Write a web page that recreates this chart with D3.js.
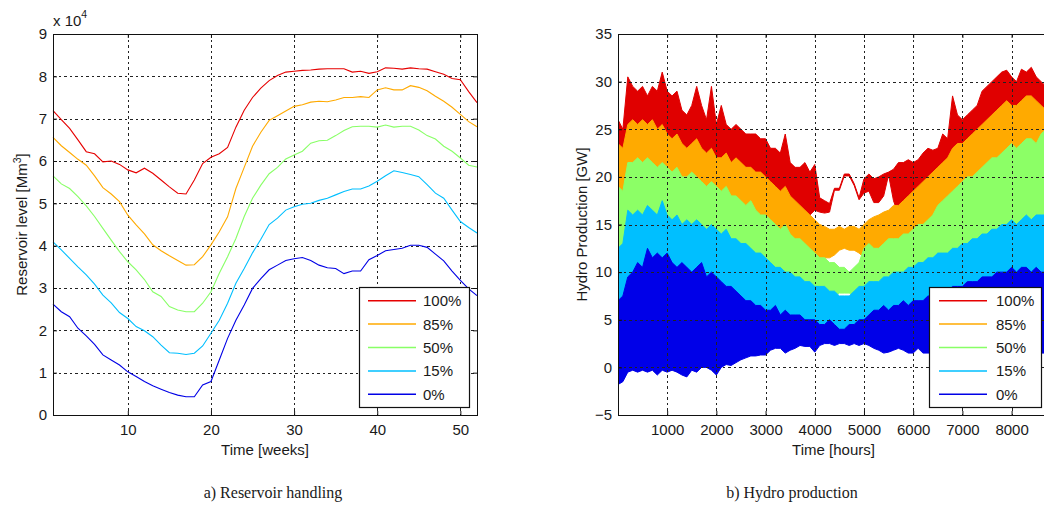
<!DOCTYPE html>
<html>
<head>
<meta charset="utf-8">
<script src="https://cdn.jsdelivr.net/npm/d3@7"></script>
<style>
  body { margin: 0; background: #fff; }
  svg text { font-family: "Liberation Sans", Arial, sans-serif; fill: #1a1a1a; }
  .caption { font-family: "Liberation Serif", "Times New Roman", serif; }
</style>
</head>
<body>
<script>
// ---------- a) reservoir level, one value per week, in units of 10^4 Mm3 ----------
const weeks = [1,2,3,4,5,6,7,8,9,10,11,12,13,14,15,16,17,18,19,20,21,22,23,24,25,26,
  27,28,29,30,31,32,33,34,35,36,37,38,39,40,41,42,43,44,45,46,47,48,49,50,51,52];
const scenarioNames = ["100%", "85%", "50%", "15%", "0%"];

const level100 = [7.19,6.98,6.77,6.50,6.22,6.17,5.98,6.00,5.92,5.79,5.72,5.83,5.71,5.55,5.39,5.24,5.22,5.55,5.94,6.09,6.17,6.32,6.80,7.20,7.50,7.72,
  7.90,8.02,8.10,8.12,8.14,8.15,8.17,8.18,8.18,8.18,8.10,8.12,8.07,8.11,8.20,8.19,8.17,8.20,8.18,8.17,8.11,8.05,7.95,7.92,7.64,7.38];
const level85 = [6.56,6.36,6.20,6.04,5.90,5.65,5.37,5.22,5.04,4.72,4.49,4.28,4.02,3.88,3.76,3.65,3.54,3.55,3.74,4.02,4.33,4.68,5.35,5.85,6.35,6.68,
  6.96,7.07,7.18,7.29,7.33,7.39,7.41,7.40,7.44,7.50,7.50,7.52,7.50,7.68,7.73,7.68,7.68,7.78,7.74,7.66,7.53,7.41,7.27,7.10,6.93,6.81];
const level50 = [5.65,5.46,5.35,5.16,4.94,4.69,4.41,4.13,3.86,3.62,3.43,3.20,2.91,2.80,2.56,2.48,2.44,2.44,2.64,2.91,3.35,3.74,4.17,4.69,5.12,5.43,
  5.70,5.85,6.05,6.14,6.23,6.42,6.48,6.49,6.60,6.72,6.81,6.82,6.82,6.80,6.85,6.80,6.82,6.82,6.73,6.60,6.52,6.35,6.23,6.07,5.90,5.86];
const level15 = [4.09,3.90,3.70,3.50,3.31,3.09,2.83,2.65,2.42,2.28,2.09,1.99,1.85,1.65,1.47,1.46,1.43,1.46,1.63,1.93,2.24,2.64,3.11,3.46,3.83,4.15,
  4.50,4.65,4.84,4.92,4.98,5.00,5.07,5.12,5.20,5.28,5.34,5.34,5.41,5.52,5.65,5.77,5.73,5.68,5.63,5.44,5.24,5.12,4.84,4.57,4.43,4.30];
const level0 = [2.62,2.44,2.32,2.05,1.87,1.67,1.42,1.30,1.18,1.02,0.91,0.79,0.69,0.61,0.53,0.47,0.43,0.43,0.71,0.79,1.30,1.81,2.24,2.60,2.99,3.22,
  3.43,3.54,3.65,3.69,3.72,3.65,3.54,3.48,3.46,3.34,3.40,3.40,3.67,3.77,3.88,3.91,3.94,4.01,4.01,3.96,3.80,3.64,3.40,3.18,2.98,2.82];

const weekTicks = [10, 20, 30, 40, 50];
const levelTicks = [0, 1, 2, 3, 4, 5, 6, 7, 8, 9];

// ---------- b) hydro production [GW], upper and lower envelope every 100 h ----------
const hours = [1,100,200,300,400,500,600,700,800,900,
  1000,1100,1200,1300,1400,1500,1600,1700,1800,1900,
  2000,2100,2200,2300,2400,2500,2600,2700,2800,2900,
  3000,3100,3200,3300,3400,3500,3600,3700,3800,3900,
  4000,4100,4200,4300,4400,4500,4600,4700,4800,4900,
  5000,5100,5200,5300,5400,5500,5600,5700,5800,5900,
  6000,6100,6200,6300,6400,6500,6600,6700,6800,6900,
  7000,7100,7200,7300,7400,7500,7600,7700,7800,7900,
  8000,8100,8200,8300,8400,8500,8600,8700,8760];

const prod100Hi = [26,25,30.5,29.5,29,29.5,28.5,29.5,29,31,
  29,28.5,29,27,26.5,27.5,29.5,27.5,26,29.5,
  25.5,27.5,25.5,25,25.5,25,24.5,24.5,24.5,24,
  24,23,23,22.5,24.5,21.5,21,21,21.5,20.5,
  21.3,17.8,17.5,17.2,18.8,18.8,20.3,20.3,19.3,17.8,
  19.8,20.3,19.8,20,20.3,20.5,20.8,21.5,21.5,21.8,
  21.5,21.8,22.5,23,22.8,23,24.5,24,28.5,26.5,
  26,26.5,27,27.5,29,29.5,30,30.5,31,31.2,
  30.5,30,31.3,31,31.5,30.5,30,29.5,29];
const prod100Lo = [22,22,24,24.5,24,24.5,24,24.5,23.5,24,
  23,22.5,23,22,21.5,22,22.5,21.5,21,21.5,
  20.5,20.5,21,20,20.5,20,19.5,19.5,19,19,
  18.5,18,17.5,17,17.5,16.5,16,16,16,16,
  16.5,16.3,16.2,16.3,18.6,18.6,20.1,20.1,19.1,17.6,
  18.3,18.5,17.3,17.3,18,20.2,17.5,16,16.5,17,
  17.5,18,18.5,19,19.5,20,20.5,21,22,22.5,
  22.5,23,23.5,24,24.5,25,25.5,26,26.5,27,
  26.5,26.5,27,27.5,27.5,27,26.5,26,26];

const prod85Hi = [23.5,23,25.5,26,25.5,26,25.5,26,25,25.5,
  24.5,24,24.5,23.5,23,23.5,24,23,22.5,23,
  22,22,22.5,21.5,22,21.5,21,21,20.5,20.5,
  20,19.5,19,18.5,19,18,17.5,17,16.5,16,
  15.5,15,14.8,14.5,14.5,14.8,14.5,14.8,14.8,14.5,
  15,15.5,15.8,16,16.3,16.5,17,17,17.5,18,
  18.5,19,19.5,20,20.5,21,21.5,22,23,23.5,
  23.5,24,24.5,25,25.5,26,26.5,27,27.5,28,
  27.5,27.5,28,28.5,28.5,28,27.5,27,27];
const prod85Lo = [18,17.5,20.5,20.5,21,20.5,21,20.5,20,20.5,
  20,19.5,20,19,19,19.5,19,18.5,18,18.5,
  18,17.5,18,17,17,16.5,16,16.5,15.5,15,
  15,14.5,14,13.5,14,13,12.5,12.5,12,12,
  12,11.5,11.5,11.5,11.8,12.3,12.5,12.3,12.3,12,
  11.5,12,11.5,11.5,12,12.5,12.5,12.5,13,13,
  13.5,14,14,14.5,15,16,16.5,17,17.5,18,
  18.5,19,19,19.5,20,20.5,21,21,21.5,22,
  22.5,22,22.5,23,23,22.5,23.5,24,23];

const prod50Hi = [19,18.5,21.5,21.5,22,21.5,22,21.5,21,21.5,
  21,20.5,21,20,20,20.5,20,19.5,19,19.5,
  19,18.5,19,18,18,17.5,17,17.5,16.5,16,
  16,15.5,15,14.5,15,14,13.5,13.5,13,12.5,
  12,11.5,11.5,11,11,10.5,10.5,10,10.5,11,
  12.5,13,12.5,12.5,13,13.5,13.5,13.5,14,14,
  14.5,15,15,15.5,16,17,17.5,18,18.5,19,
  19.5,20,20,20.5,21,21.5,22,22,22.5,23,
  23.5,23,23.5,24,24,23.5,24.5,25,24];
const prod50Lo = [11.5,12,15.5,15,15.5,15,16,15.5,15,16.5,
  15,14.5,15,14,14.5,14,14.5,14,13.5,14,
  13.5,13,13.5,12.5,12.5,12,12,11.5,11,11,
  10.5,10,9.5,9.5,9,9,8.5,8.5,8,8,
  7.5,7.5,7.5,7.5,7.5,7.8,7.8,7.8,7.5,7.5,
  7.5,8,8,8,8.5,8.5,9,9,9,9.5,
  9.5,10,10,10.5,10.5,11,11,11,11.5,11.5,
  12,12,12.5,12.5,13,13,13.5,13.5,14,14,
  14.5,14,14.5,15,14.5,15,15,15,14.5];

const prod15Hi = [12.5,13,16.5,16,16.5,16,17,16.5,16,17.5,
  16,15.5,16,15,15.5,15,15.5,15,14.5,15,
  14.5,14,14.5,13.5,13.5,13,13,12.5,12,12,
  11.5,11,10.5,10.5,10,10,9.5,9.5,9,9,
  8.5,8.5,8.5,8,8,7.5,7.5,7.5,8,8.5,
  8.5,9,9,9,9.5,9.5,10,10,10,10.5,
  10.5,11,11,11.5,11.5,12,12,12,12.5,12.5,
  13,13,13.5,13.5,14,14,14.5,14.5,15,15,
  15.5,15,15.5,16,15.5,16,16,16,15.5];
const prod15Lo = [6,6.5,8.5,9,10,9.5,11.5,10.5,11,10.5,
  11,10,9.5,10,9.5,9,9.5,10,8.5,9,
  8.5,8,7.5,7.5,7,6.5,6,6,5.5,5.5,
  5,5,5.5,4.5,5,4.5,4.5,4.5,4,4,
  4,3.8,3.8,4,3.8,3.5,3.5,3.8,3.8,4,
  4,4.5,5,5,5.5,5,5.5,5.5,6,5.5,
  6,6,6,6.5,6.5,7,7,7,7.5,7.5,
  7.5,8,8,8,8.5,8.5,8.5,9,9,9,
  9.5,9,9.5,9.5,9,9.5,9,9,8.5];

const prod0Hi = [7,7.5,9.5,10,11,10.5,12.5,11.5,12,11.5,
  12,11,10.5,11,10.5,10,10.5,11,9.5,10,
  9.5,9,8.5,8.5,8,7.5,7,7,6.5,6.5,
  6,6,6.5,5.5,6,5.5,5.5,5.5,5,5,
  5,4.5,4.5,5,4.5,4,4,4.5,4.5,5,
  5,5.5,6,6,6.5,6,6.5,6.5,7,6.5,
  7,7,7,7.5,7.5,8,8,8,8.5,8.5,
  8.5,9,9,9,9.5,9.5,9.5,10,10,10,
  10.5,10,10.5,10.5,10,10.5,10,10,9.5];
const prod0Lo = [-1.8,-1.5,-0.5,-0.3,-0.5,-0.3,-0.5,-0.3,-0.8,-0.3,
  -0.5,-0.3,-0.5,-0.8,-1,-0.3,-0.5,0,0,-0.3,
  -0.8,0,0.3,0.2,0.5,0.8,1,1.2,1.2,1.3,
  1.3,1.8,2,2,1.5,1.8,2,2.3,2.2,2.2,
  1.6,2.3,2.5,2.5,2.3,2.5,2.5,2.3,2.5,2.3,
  2.5,2.3,2,1.8,1.5,1.6,1.8,2,1.8,1.5,
  1.5,2,1.5,1.5,1.5,1.5,1.5,1.5,1.5,1.5,
  1.5,1.5,1.5,1.5,1.5,1.5,1.5,1.5,1.5,1.5,
  1.5,1.5,1.5,1.5,1.5,1.5,1.5,1.5,1.5];

const hourTicks = [1000, 2000, 3000, 4000, 5000, 6000, 7000, 8000];
const prodTicks = [-5, 0, 5, 10, 15, 20, 25, 30, 35];

const lineColors = ["#e60000", "#ffaa00", "#88ff66", "#00bfff", "#0000e6"];
const bandColors = ["#e00000", "#ffaa00", "#8cff66", "#00bfff", "#0000e8"];

const svg = d3.select("body").append("svg")
  .attr("width", 1044)
  .attr("height", 508);
svg.append("rect").attr("width", 1044).attr("height", 508).attr("fill", "#fff");

const xL = d3.scaleLinear().domain([1, 52]).range([53, 477]);
const yL = d3.scaleLinear().domain([0, 9]).range([415, 34]);
const xR = d3.scaleLinear().domain([1, 8760]).range([618, 1049]);
const yR = d3.scaleLinear().domain([-5, 35]).range([415, 34]);

// dotted grid at the inner ticks
function grid(x, y, xt, yt) {
  const [x0, x1] = x.range(), [y1, y0] = y.range();
  const g = svg.append("g")
    .attr("stroke", "#222")
    .attr("stroke-width", 1)
    .attr("stroke-dasharray", "2.5,3")
    .attr("shape-rendering", "crispEdges");
  g.selectAll(null).data(xt.filter(d => x(d) > x0 + 1 && x(d) < x1 - 1)).join("line")
    .attr("x1", d => Math.round(x(d)) + 0.5).attr("x2", d => Math.round(x(d)) + 0.5)
    .attr("y1", y0).attr("y2", y1);
  g.selectAll(null).data(yt.filter(d => y(d) > y0 + 1 && y(d) < y1 - 1)).join("line")
    .attr("y1", d => Math.round(y(d)) + 0.5).attr("y2", d => Math.round(y(d)) + 0.5)
    .attr("x1", x0).attr("x2", x1);
}

// box, inward ticks and tick labels
function axes(x, y, xt, yt, xlabel) {
  const [x0, x1] = x.range(), [y1, y0] = y.range();
  const style = s => {
    s.select(".domain").remove();
    s.selectAll("line").attr("stroke", "#111");
    s.attr("font-size", 15).attr("font-family", "Liberation Sans, Arial, sans-serif");
    s.selectAll("text").attr("fill", "#1a1a1a");
  };
  svg.append("g").attr("transform", `translate(0,${y1})`)
    .call(d3.axisBottom(x).tickValues(xt).tickSize(-4).tickPadding(9).tickFormat(d3.format("d"))).call(style);
  svg.append("g").attr("transform", `translate(0,${y0})`)
    .call(d3.axisTop(x).tickValues(xt).tickSize(-4).tickFormat("")).call(style);
  svg.append("g").attr("transform", `translate(${x0},0)`)
    .call(d3.axisLeft(y).tickValues(yt).tickSize(-4).tickPadding(6).tickFormat(d3.format("d"))).call(style);
  svg.append("g").attr("transform", `translate(${x1},0)`)
    .call(d3.axisRight(y).tickValues(yt).tickSize(-4).tickFormat("")).call(style);
  svg.append("rect")
    .attr("x", x0 + 0.5).attr("y", y0 + 0.5)
    .attr("width", x1 - x0).attr("height", y1 - y0)
    .attr("fill", "none").attr("stroke", "#111").attr("stroke-width", 1)
    .attr("shape-rendering", "crispEdges");
  svg.append("text")
    .attr("x", (x0 + x1) / 2).attr("y", 455)
    .attr("text-anchor", "middle").attr("font-size", 15)
    .text(xlabel);
}

function legend(left, top, w, lineX, textX) {
  const g = svg.append("g").attr("transform", `translate(${left},${top})`);
  g.append("rect").attr("x", 0.5).attr("y", 0.5).attr("width", w).attr("height", 120)
    .attr("fill", "#fff").attr("stroke", "#111").attr("stroke-width", 1.2);
  const rows = g.selectAll(null).data(scenarioNames).join("g")
    .attr("transform", (d, i) => `translate(0,${13.7 + i * 23.4})`);
  rows.append("line").attr("x1", lineX[0]).attr("x2", lineX[1])
    .attr("stroke", (d, i) => lineColors[i]).attr("stroke-width", 1.5);
  rows.append("text").attr("x", textX).attr("dy", "0.36em")
    .attr("font-size", 15).text(d => d);
}

// ---------- panel a ----------
grid(xL, yL, weekTicks, levelTicks);
const levels = [level100, level85, level50, level15, level0];
const levelLine = d3.line().x((d, i) => xL(weeks[i])).y(d => yL(d));
svg.append("g").selectAll("path").data(levels).join("path")
  .attr("d", levelLine)
  .attr("fill", "none")
  .attr("stroke", (d, i) => lineColors[i])
  .attr("stroke-width", 1.1);
axes(xL, yL, weekTicks, levelTicks, "Time [weeks]");

const mult = svg.append("text").attr("x", 53).attr("y", 26).attr("font-size", 15);
mult.append("tspan").text("x 10");
mult.append("tspan").attr("font-size", 10.5).attr("dy", -8).text("4");

const ylabA = svg.append("text")
  .attr("transform", `translate(27,${(34 + 415) / 2}) rotate(-90)`)
  .attr("text-anchor", "middle").attr("font-size", 15);
ylabA.append("tspan").text("Reservoir level [Mm");
ylabA.append("tspan").attr("font-size", 10.5).attr("dy", -6).text("3");
ylabA.append("tspan").attr("dy", 6).text("]");

legend(359, 287, 110, [9, 57], 64);

// ---------- panel b ----------
svg.append("clipPath").attr("id", "clipB")
  .append("rect").attr("x", 618).attr("y", 34).attr("width", 431).attr("height", 381);

const bands = [
  [prod100Hi, prod100Lo], [prod85Hi, prod85Lo], [prod50Hi, prod50Lo],
  [prod15Hi, prod15Lo], [prod0Hi, prod0Lo]
];
const band = d3.area()
  .x((d, i) => xR(hours[i]))
  .y0(d => yR(d[1]))
  .y1(d => yR(d[0]));
svg.append("g").attr("clip-path", "url(#clipB)")
  .selectAll("path").data(bands).join("path")
  .attr("d", d => band(d[0].map((v, i) => [v, d[1][i]])))
  .attr("fill", (d, i) => bandColors[i])
  .attr("stroke", (d, i) => bandColors[i])
  .attr("stroke-width", 1)
  .attr("stroke-linejoin", "bevel");
grid(xR, yR, hourTicks, prodTicks);
axes(xR, yR, hourTicks, prodTicks, "Time [hours]");

svg.append("text")
  .attr("transform", `translate(587,${(34 + 415) / 2}) rotate(-90)`)
  .attr("text-anchor", "middle").attr("font-size", 15)
  .text("Hydro Production [GW]");

legend(929, 287, 112, [10, 58], 67);

// ---------- captions ----------
svg.append("text").attr("class", "caption")
  .attr("x", 273).attr("y", 498).attr("text-anchor", "middle").attr("font-size", 16)
  .text("a) Reservoir handling");
svg.append("text").attr("class", "caption")
  .attr("x", 792).attr("y", 498).attr("text-anchor", "middle").attr("font-size", 16)
  .text("b) Hydro production");
</script>
</body>
</html>
